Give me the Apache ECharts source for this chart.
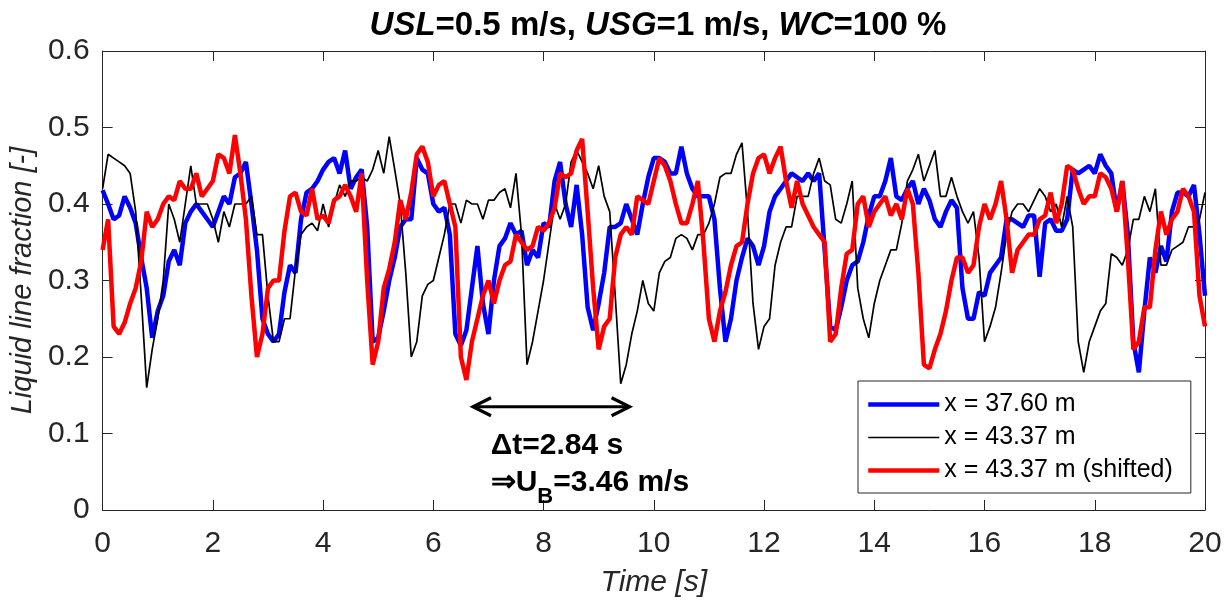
<!DOCTYPE html>
<html>
<head>
<meta charset="utf-8">
<script src="https://cdn.jsdelivr.net/npm/echarts@6/dist/echarts.min.js"></script>
<style>
  html, body { margin: 0; padding: 0; background: #fff; }
  #chart { width: 1229px; height: 603px; }
</style>
</head>
<body>
<div id="chart"></div>
<script>
const timeStep = 0.1;
const seriesNames = ['x = 37.60 m', 'x = 43.37 m', 'x = 43.37 m (shifted)'];

const blue = [
  0.418,0.40,0.38,0.385,0.41,0.395,0.375,0.33,0.29,0.225,
  0.26,0.28,0.325,0.34,0.32,0.375,0.39,0.40,0.39,0.38,
  0.37,0.39,0.41,0.40,0.435,0.44,0.455,0.40,0.34,0.25,
  0.23,0.22,0.23,0.285,0.32,0.31,0.38,0.415,0.42,0.43,
  0.445,0.455,0.46,0.44,0.47,0.42,0.435,0.445,0.37,0.22,
  0.225,0.26,0.30,0.33,0.37,0.38,0.38,0.46,0.445,0.44,
  0.40,0.39,0.395,0.36,0.23,0.215,0.235,0.29,0.345,0.27,
  0.23,0.30,0.345,0.355,0.375,0.36,0.365,0.32,0.34,0.33,
  0.375,0.37,0.43,0.455,0.40,0.37,0.425,0.36,0.265,0.235,
  0.27,0.31,0.37,0.37,0.375,0.40,0.38,0.36,0.40,0.435,
  0.46,0.46,0.455,0.44,0.44,0.475,0.44,0.42,0.41,0.41,
  0.41,0.38,0.29,0.22,0.25,0.30,0.33,0.355,0.345,0.32,
  0.345,0.39,0.41,0.42,0.43,0.44,0.435,0.43,0.44,0.43,
  0.44,0.34,0.24,0.235,0.265,0.30,0.32,0.325,0.35,0.385,
  0.41,0.41,0.43,0.46,0.41,0.405,0.42,0.43,0.40,0.42,
  0.405,0.38,0.37,0.39,0.405,0.395,0.29,0.25,0.25,0.285,
  0.28,0.31,0.32,0.33,0.38,0.38,0.375,0.37,0.385,0.385,
  0.305,0.375,0.38,0.365,0.365,0.38,0.445,0.44,0.445,0.45,
  0.44,0.465,0.45,0.44,0.39,0.43,0.36,0.22,0.18,0.26,
  0.33,0.31,0.345,0.325,0.39,0.415,0.415,0.41,0.425,0.36,
  0.28
];

const black = [
  0.42,0.465,0.46,0.455,0.45,0.44,0.39,0.28,0.16,0.21,
  0.25,0.30,0.40,0.38,0.35,0.40,0.45,0.40,0.40,0.40,
  0.38,0.35,0.39,0.37,0.40,0.40,0.40,0.41,0.36,0.36,
  0.28,0.22,0.22,0.25,0.25,0.315,0.36,0.37,0.375,0.365,
  0.40,0.37,0.40,0.425,0.41,0.43,0.43,0.435,0.43,0.445,
  0.47,0.44,0.488,0.445,0.40,0.31,0.20,0.22,0.28,0.295,
  0.30,0.33,0.36,0.40,0.40,0.375,0.405,0.40,0.40,0.38,
  0.405,0.405,0.415,0.42,0.395,0.44,0.36,0.19,0.22,0.26,
  0.30,0.35,0.40,0.38,0.40,0.455,0.47,0.455,0.44,0.42,
  0.45,0.41,0.39,0.28,0.165,0.19,0.23,0.26,0.30,0.27,
  0.26,0.31,0.325,0.33,0.355,0.36,0.355,0.34,0.36,0.36,
  0.375,0.40,0.435,0.44,0.44,0.465,0.48,0.39,0.27,0.21,
  0.24,0.25,0.32,0.35,0.37,0.37,0.41,0.41,0.41,0.44,
  0.46,0.43,0.425,0.38,0.375,0.40,0.43,0.29,0.25,0.225,
  0.27,0.30,0.32,0.34,0.34,0.375,0.43,0.445,0.465,0.43,
  0.45,0.47,0.41,0.41,0.435,0.41,0.39,0.375,0.39,0.33,
  0.22,0.24,0.265,0.31,0.36,0.39,0.40,0.40,0.39,0.405,
  0.42,0.41,0.39,0.40,0.37,0.41,0.37,0.22,0.18,0.22,
  0.24,0.26,0.27,0.335,0.33,0.32,0.34,0.38,0.38,0.41,
  0.39,0.42,0.32,0.32,0.34,0.345,0.35,0.37,0.37,0.38,
  0.415
];

const red = [
  0.34,0.38,0.24,0.23,0.245,0.27,0.29,0.325,0.39,0.37,
  0.38,0.40,0.41,0.405,0.43,0.42,0.42,0.44,0.41,0.42,
  0.43,0.465,0.46,0.44,0.49,0.44,0.38,0.28,0.20,0.23,
  0.29,0.30,0.30,0.365,0.41,0.415,0.39,0.385,0.42,0.38,
  0.385,0.375,0.405,0.41,0.425,0.41,0.39,0.44,0.30,0.19,
  0.22,0.29,0.315,0.35,0.405,0.38,0.415,0.465,0.475,0.455,
  0.41,0.425,0.43,0.40,0.37,0.20,0.17,0.22,0.25,0.28,
  0.30,0.27,0.30,0.32,0.325,0.36,0.35,0.34,0.345,0.37,
  0.365,0.375,0.395,0.44,0.435,0.44,0.47,0.485,0.39,0.29,
  0.21,0.24,0.25,0.33,0.36,0.37,0.36,0.41,0.405,0.40,
  0.43,0.46,0.45,0.43,0.40,0.375,0.375,0.40,0.43,0.35,
  0.25,0.22,0.26,0.285,0.32,0.345,0.35,0.40,0.44,0.46,
  0.465,0.44,0.46,0.475,0.43,0.395,0.43,0.40,0.385,0.37,
  0.36,0.35,0.22,0.23,0.29,0.335,0.34,0.40,0.41,0.37,
  0.39,0.40,0.41,0.385,0.40,0.38,0.42,0.40,0.31,0.19,
  0.185,0.21,0.23,0.26,0.30,0.33,0.33,0.31,0.32,0.37,
  0.40,0.38,0.40,0.43,0.38,0.31,0.34,0.35,0.36,0.36,
  0.38,0.385,0.415,0.375,0.40,0.45,0.445,0.42,0.40,0.41,
  0.41,0.44,0.435,0.42,0.39,0.43,0.33,0.21,0.22,0.265,
  0.265,0.34,0.39,0.36,0.38,0.39,0.42,0.41,0.39,0.28,
  0.24
];

// annotation (data coordinates)
const arrowT0 = 6.72, arrowT1 = 9.56, arrowLevel = 0.135;
const dtText = 'Δt=2.84 s';
const dtTextPos = [7.04, 0.084];
const ubTextPos = [7.04, 0.036];

// axis ranges
const xMin = 0, xMax = 20, xStep = 2;
const yMin = 0, yMax = 0.6, yStep = 0.1;

// ---- chart ----
const FONT = "'Liberation Sans', Arial, Helvetica, sans-serif";
const AXIS_COLOR = '#262626';
const toPairs = arr => arr.map((v, i) => [Math.round(i * timeStep * 10) / 10, v]);

const chart = echarts.init(document.getElementById('chart'), null, { renderer: 'canvas' });

const baseX = {
  type: 'value', min: xMin, max: xMax, interval: xStep,
  axisLine: { show: true, onZero: false, lineStyle: { color: AXIS_COLOR, width: 1 } },
  axisTick: { show: true, inside: true, length: 10, lineStyle: { color: AXIS_COLOR } },
  splitLine: { show: false }
};
const baseY = {
  type: 'value', min: yMin, max: yMax, interval: yStep,
  axisLine: { show: true, onZero: false, lineStyle: { color: AXIS_COLOR, width: 1 } },
  axisTick: { show: true, inside: true, length: 10, lineStyle: { color: AXIS_COLOR } },
  splitLine: { show: false }
};

const option = {
  animation: false,
  backgroundColor: '#fff',
  textStyle: { fontFamily: FONT },
  title: {
    text: '{i|USL}=0.5 m/s, {i|USG}=1 m/s, {i|WC}=100 %',
    left: 653, textAlign: 'center', top: 4,
    textStyle: {
      fontFamily: FONT, fontSize: 33, fontWeight: 'bold', color: '#000',
      rich: { i: { fontFamily: FONT, fontSize: 33, fontWeight: 'bold', fontStyle: 'italic', color: '#000' } }
    }
  },
  grid: { left: 102, right: 24, top: 51, bottom: 91, containLabel: false },
  xAxis: [
    Object.assign({}, baseX, {
      position: 'bottom',
      name: 'Time [s]', nameLocation: 'middle', nameGap: 58,
      nameTextStyle: { fontFamily: FONT, fontSize: 30, fontStyle: 'italic', color: AXIS_COLOR },
      axisLabel: { show: true, fontFamily: FONT, fontSize: 30, color: AXIS_COLOR, margin: 19 }
    }),
    Object.assign({}, baseX, { position: 'top', axisLabel: { show: false } })
  ],
  yAxis: [
    Object.assign({}, baseY, {
      position: 'left',
      name: 'Liquid line fraction [-]', nameLocation: 'middle', nameGap: 59,
      nameTextStyle: { fontFamily: FONT, fontSize: 29, fontStyle: 'italic', color: AXIS_COLOR },
      axisLabel: { show: true, fontFamily: FONT, fontSize: 30, color: AXIS_COLOR, margin: 13 }
    }),
    Object.assign({}, baseY, { position: 'right', axisLabel: { show: false } })
  ],
  legend: {
    orient: 'vertical', left: 858, top: 381,
    padding: [11, 18, 10, 8], itemGap: 8,
    itemWidth: 71, itemHeight: 14,
    itemStyle: { opacity: 0 },
    lineStyle: { width: 'inherit' },
    backgroundColor: '#fff', borderColor: AXIS_COLOR, borderWidth: 1,
    textStyle: { fontFamily: FONT, fontSize: 25, color: '#000', lineHeight: 25 },
    data: seriesNames
  },
  series: [
    { name: seriesNames[0], type: 'line', data: toPairs(blue), showSymbol: false,
      lineStyle: { color: '#0000ff', width: 4.5 }, itemStyle: { color: '#0000ff' }, z: 2 },
    { name: seriesNames[1], type: 'line', data: toPairs(black), showSymbol: false,
      lineStyle: { color: '#000000', width: 1.7 }, itemStyle: { color: '#000000' }, z: 3 },
    { name: seriesNames[2], type: 'line', data: toPairs(red), showSymbol: false,
      lineStyle: { color: '#ff0000', width: 4.5 }, itemStyle: { color: '#ff0000' }, z: 4 }
  ]
};
chart.setOption(option);

// annotation arrow + text positioned through the chart's own scales
const px = p => chart.convertToPixel({ xAxisIndex: 0, yAxisIndex: 0 }, p);
const a0 = px([arrowT0, arrowLevel]);
const a1 = px([arrowT1, arrowLevel]);
const d1 = px(dtTextPos);
const d2 = px(ubTextPos);
const headL = 18, headW = 9;
chart.setOption({
  graphic: [
    { type: 'line', z: 100, shape: { x1: a0[0] + 2, y1: a0[1], x2: a1[0] - 2, y2: a1[1] },
      style: { stroke: '#000', lineWidth: 3 } },
    { type: 'polyline', z: 100, shape: { points: [[a0[0] + headL, a0[1] - headW], [a0[0], a0[1]], [a0[0] + headL, a0[1] + headW]] },
      style: { stroke: '#000', lineWidth: 3.2, fill: null, lineJoin: 'miter' } },
    { type: 'polyline', z: 100, shape: { points: [[a1[0] - headL, a1[1] - headW], [a1[0], a1[1]], [a1[0] - headL, a1[1] + headW]] },
      style: { stroke: '#000', lineWidth: 3.2, fill: null, lineJoin: 'miter' } },
    { type: 'text', z: 100, x: d1[0], y: d1[1],
      style: { text: dtText, fill: '#000', font: 'bold 30px ' + FONT, verticalAlign: 'middle', align: 'left' } },
    { type: 'text', z: 100, x: d2[0], y: d2[1],
      style: {
        text: '{a|⇒U}{b|B}{a|=3.46 m/s}', verticalAlign: 'middle', align: 'left',
        rich: {
          a: { fontFamily: FONT, fontSize: 30, fontWeight: 'bold', fill: '#000', lineHeight: 50, verticalAlign: 'middle' },
          b: { fontFamily: FONT, fontSize: 22, fontWeight: 'bold', fill: '#000', lineHeight: 50, verticalAlign: 'bottom' }
        }
      } }
  ]
});
</script>
</body>
</html>
